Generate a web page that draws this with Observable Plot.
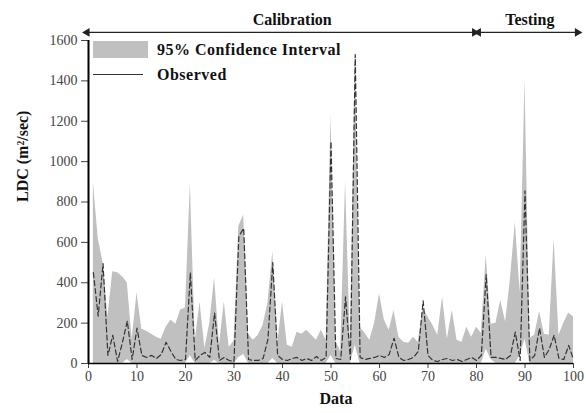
<!DOCTYPE html>
<html><head><meta charset="utf-8">
<script src="https://cdn.jsdelivr.net/npm/d3@7"></script>
<script src="https://cdn.jsdelivr.net/npm/@observablehq/plot@0.6"></script>
<style>
body{margin:0;background:#fff;}
#wrap{position:relative;width:586px;height:413px;font-family:"Liberation Serif","Times New Roman",serif;}
#legend{position:absolute;left:0;top:0;}
.sw{position:absolute;left:93px;top:41px;width:55px;height:17px;background:#c0c0c0;}
.ln{position:absolute;left:93px;top:74px;width:50px;height:1px;background:#333;}
.lt{position:absolute;left:157px;font-weight:bold;font-size:16px;letter-spacing:0.5px;color:#111;white-space:nowrap;line-height:16px;}
</style></head><body><div id="wrap"></div>
<script>
// Data index (1..100)
const dataIndex = [
  1,2,3,4,5,6,7,8,9,10,11,12,13,14,15,16,17,18,19,20,
  21,22,23,24,25,26,27,28,29,30,31,32,33,34,35,36,37,38,39,40,
  41,42,43,44,45,46,47,48,49,50,51,52,53,54,55,56,57,58,59,60,
  61,62,63,64,65,66,67,68,69,70,71,72,73,74,75,76,77,78,79,80,
  81,82,83,84,85,86,87,88,89,90,91,92,93,94,95,96,97,98,99,100];
// Upper bound of the 95% confidence interval
const ciUpper = [
  900,620,500,230,455,450,430,400,120,350,
  170,160,145,130,120,180,215,195,265,275,
  890,110,305,75,200,425,90,305,80,110,
  680,735,145,115,140,190,300,555,95,305,
  90,80,155,145,165,140,115,165,115,1235,
  110,60,905,80,1540,180,150,115,200,345,
  215,165,262,130,105,100,130,105,275,230,
  190,140,330,120,262,115,105,180,130,180,
  150,540,195,200,312,205,420,700,350,1405,
  125,140,258,145,140,617,140,200,250,230];
// Lower bound of the 95% confidence interval
const ciLower = [
  0,0,0,0,0,0,0,20,0,0,
  0,0,0,0,0,0,0,0,0,0,
  40,0,0,0,0,15,0,0,0,0,
  30,45,0,0,0,0,0,25,0,0,
  0,0,0,0,0,0,0,0,0,40,
  0,0,0,0,90,0,0,0,0,0,
  0,0,0,0,0,0,0,0,0,0,
  0,0,0,0,0,0,0,0,0,0,
  0,70,20,0,0,0,0,0,40,120,
  0,0,0,0,0,0,0,0,0,0];
// Observed LDC
const observed = [
  450,235,495,40,140,10,105,210,20,175,
  40,30,40,25,45,105,60,20,15,20,
  450,15,40,55,30,250,15,30,15,10,
  630,670,20,15,15,25,120,500,40,20,
  15,25,30,15,25,15,35,15,30,1100,
  25,20,330,20,1530,30,20,25,30,40,
  30,45,125,30,15,20,30,60,310,40,
  15,10,20,25,15,20,10,20,30,15,
  40,440,30,30,25,20,40,155,15,855,
  15,40,175,30,70,140,25,20,90,20];
// Periods
const periodNames = ["Calibration", "Testing"];
const periodStart = [-0.3, 80.4];
const periodEnd = [79.6, 100.8];
const periodLabelX = [42, 91];
// Ticks
const xTicks = [0,10,20,30,40,50,60,70,80,90,100];
const yTicks = [0,200,400,600,800,1000,1200,1400,1600];
const xTitle = "Data";
const yTitle = "LDC (m\u00B2/sec)";
const legendLabels = ["95% Confidence Interval", "Observed"];

const table = dataIndex.map((d, i) => ({x: d, lo: ciLower[i], hi: ciUpper[i], obs: observed[i]}));
const periods = periodNames.map((n, i) => ({name: n, x1: periodStart[i], x2: periodEnd[i], lx: periodLabelX[i]}));
const heads = periods.flatMap(p => [{x: p.x1, r: -90}, {x: p.x2, r: 90}]);
const arrowY = 1640;

const chart = Plot.plot({
  width: 586, height: 413,
  marginTop: 40, marginRight: 13, marginBottom: 50, marginLeft: 88,
  style: {fontFamily: "'Liberation Serif', 'Times New Roman', serif", fontSize: "14px", color: "#444", background: "#fff", overflow: "visible"},
  x: {domain: [0, 100], ticks: xTicks, tickFormat: d3.format("d"), label: null, tickSize: 5, tickPadding: 3},
  y: {domain: [0, 1600], ticks: yTicks, tickFormat: d3.format("d"), label: null, tickSize: 7, tickPadding: 4},
  marks: [
    Plot.areaY(table, {x: "x", y1: "lo", y2: "hi", fill: "#c0c0c0"}),
    Plot.line(table, {x: "x", y: "obs", stroke: "#333", strokeWidth: 1.2, strokeDasharray: "5,3"}),
    Plot.ruleX([0], {stroke: "#000", strokeWidth: 2}),
    Plot.ruleY([0], {stroke: "#000", strokeWidth: 1.5}),
    Plot.link(periods, {x1: "x1", x2: "x2", y1: () => arrowY, y2: () => arrowY, stroke: "#222", strokeWidth: 1.2}),
    Plot.dot(heads, {x: "x", y: () => arrowY, rotate: "r", symbol: "triangle", r: 3.2, fill: "#222", stroke: "none"}),
    Plot.text(periods, {x: "lx", text: "name", frameAnchor: "top", dy: -27, fontWeight: "bold", fontSize: 16, fill: "#111", textAnchor: "middle"}),
    Plot.text([xTitle], {text: d => d, frameAnchor: "bottom", dy: 40, dx: 5, fontWeight: "bold", fontSize: 16, fill: "#111"}),
    Plot.text([yTitle], {text: d => d, frameAnchor: "left", dx: -66, rotate: -90, fontWeight: "bold", fontSize: 16, fill: "#111"})
  ]
});
const wrap = document.getElementById("wrap");
wrap.appendChild(chart);
const lg = document.createElement("div");
lg.id = "legend";
lg.innerHTML = `<div class="sw"></div><div class="lt" style="top:42px">${legendLabels[0]}</div>
<div class="ln"></div><div class="lt" style="top:67px">${legendLabels[1]}</div>`;
wrap.appendChild(lg);
</script>
</body></html>
